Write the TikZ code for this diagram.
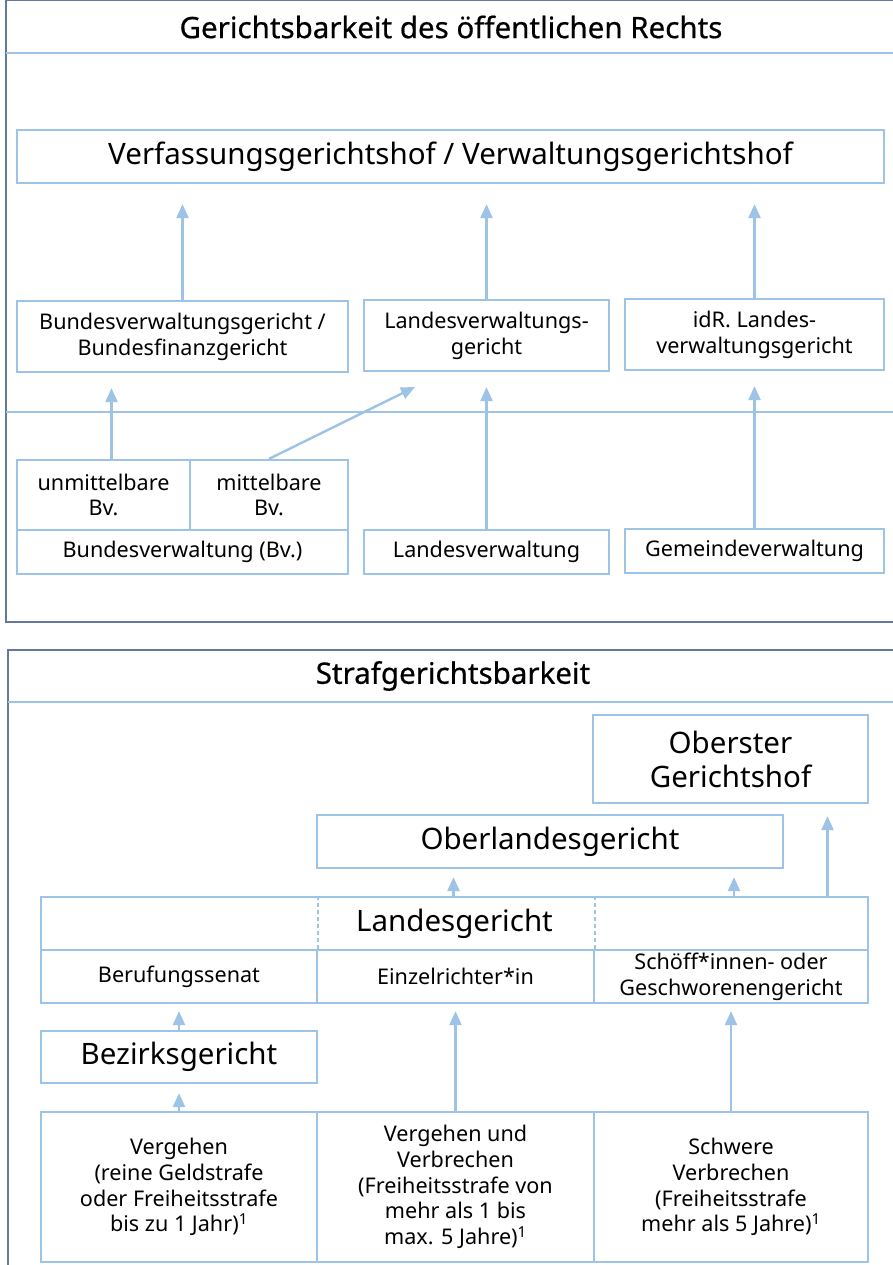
\documentclass[tikz,border=0pt]{standalone}
\usepackage{fontspec}
\setmainfont{Noto Sans}
\newfontfamily\titelfamilie[FakeBold=0.6]{Noto Sans}
\usepackage{tikz}
\usetikzlibrary{arrows.meta}
\definecolor{linie}{HTML}{9DC3E6}
\definecolor{rahmen}{HTML}{66789A}
\newcommand\normtxt{\fontsize{21.6}{25.8}\selectfont}
\newcommand\grosstxt{\fontsize{29.5}{34}\selectfont}
\newcommand\titeltxt{\titelfamilie\fontsize{29.5}{32}\selectfont}

\begin{document}
\begin{tikzpicture}[x=1pt,y=-1pt,
    box/.style={draw=linie,line width=2.2pt,align=center,inner sep=0pt,font=\normtxt},
    grossbox/.style={box,font=\grosstxt},
    arr/.style={draw=linie,line width=2.4pt,-{Triangle[width=12pt,length=14pt]}},
    trenner/.style={draw=linie,line width=2.2pt},
    panel/.style={draw=rahmen,line width=2pt}]
        \useasboundingbox (0,0) rectangle (892,1265);

        % oeffentliches Recht
        \draw[panel] (893,0.5) -| (6,622) -- (893,622);
        \draw[trenner] (6,53) -- (893,53);
        \node[font=\titeltxt] (titelA) at (451,27) {Gerichtsbarkeit des öffentlichen Rechts};

        \path
        (450.5,156.5) node[grossbox,minimum width=867,minimum height=53] (vfgh) {Verfassungsgerichtshof / Verwaltungsgerichtshof}
        (182.5,336.5) node[box,minimum width=331,minimum height=71] (bvwg) {Bundesverwaltungsgericht /\\Bundesfinanzgericht}
        (486.5,335.5) node[box,minimum width=245,minimum height=71] (lvwg) {Landesverwaltungs-\\gericht}
        (754.5,334.5) node[box,minimum width=259,minimum height=71] (idr) {idR. Landes-\\verwaltungsgericht}
        ;
        \draw[trenner] (6,412) -- (893,412);

        \path
        (103.5,495) node[box,minimum width=173,minimum height=70] (ubv) {unmittelbare\\Bv.}
        (269,495) node[box,minimum width=158,minimum height=70] (mbv) {mittelbare\\Bv.}
        (182.5,552) node[box,minimum width=331,minimum height=44] (bv) {Bundesverwaltung (Bv.)}
        (486.5,552) node[box,minimum width=245,minimum height=44] (lv) {Landesverwaltung}
        (754.5,551) node[box,minimum width=259,minimum height=44] (gv) {Gemeindeverwaltung}
        ;
        \coordinate (mziel) at (415,387);

        \draw[arr,shorten >=20pt] (bvwg.north) -- (bvwg.north |- vfgh.south);
        \draw[arr,shorten >=20pt] (lvwg.north) -- (lvwg.north |- vfgh.south);
        \draw[arr,shorten >=20pt] (idr.north) -- (idr.north |- vfgh.south);
        \draw[arr,shorten >=15pt] ([xshift=8pt]ubv.north) -- ([xshift=8pt]ubv.north |- bvwg.south);
        \draw[arr] (mbv.north) -- (mziel);
        \draw[arr,shorten >=15pt] (lv.north) -- (lv.north |- lvwg.south);
        \draw[arr,shorten >=15pt] (gv.north) -- (gv.north |- idr.south);

        % Strafgerichtsbarkeit
        \draw[panel] (893,650) -| (8,1268);
        \draw[trenner] (8,702) -- (893,702);
        \node[font=\titeltxt] (titelB) at (453,676) {Strafgerichtsbarkeit};

        \path
        (730.5,759) node[grossbox,minimum width=275,minimum height=88] (ogh) {Oberster\\Gerichtshof}
        (550,841.5) node[grossbox,minimum width=466,minimum height=53] (olg) {Oberlandesgericht}
        (454.5,923.5) node[grossbox,minimum width=827,minimum height=53] (lg) {Landesgericht}
        (179,976.5) node[box,minimum width=276,minimum height=53] (beruf) {Berufungssenat}
        (455.5,976.5) node[box,minimum width=277,minimum height=53] (einzel) {Einzelrichter*in}
        (731,976.5) node[box,minimum width=274,minimum height=53] (schoeff) {Schöff*innen- oder\\Geschworenengericht}
        (179,1057) node[grossbox,minimum width=276,minimum height=52] (bzg) {Bezirksgericht}
        (179,1187) node[box,minimum width=276,minimum height=150] (verg) {Vergehen\\(reine Geldstrafe\\oder Freiheitsstrafe\\bis zu 1 Jahr)\textsuperscript{1}}
        (455.5,1187) node[box,minimum width=277,minimum height=150] (vuv) {Vergehen und\\Verbrechen\\(Freiheitsstrafe von\\mehr als 1 bis\\max. 5 Jahre)\textsuperscript{1}}
        (731,1187) node[box,minimum width=274,minimum height=150] (schw) {Schwere\\Verbrechen\\(Freiheitsstrafe\\mehr als 5 Jahre)\textsuperscript{1}}
        ;
        \draw[linie,line width=1.6pt,dash pattern=on 4pt off 3pt] (beruf.north east) -- (beruf.north east |- lg.north);
        \draw[linie,line width=1.6pt,dash pattern=on 4pt off 3pt] (einzel.north east) -- (einzel.north east |- lg.north);

        \draw[arr,shorten >=12pt] ([xshift=97pt]ogh.south |- lg.north) -- ([xshift=97pt]ogh.south);
        \draw[arr,shorten >=8pt] ([xshift=-2pt]einzel.north |- lg.north) -- ([xshift=-2pt]einzel.north |- olg.south);
        \draw[arr,shorten >=8pt] ([xshift=3pt]schoeff.north |- lg.north) -- ([xshift=3pt]schoeff.north |- olg.south);
        \draw[arr,shorten >=7pt] (bzg.north) -- (beruf.south);
        \draw[arr,shorten >=9pt] (verg.north) -- (bzg.south);
        \draw[arr,shorten >=7pt] (vuv.north) -- (einzel.south);
        \draw[arr,shorten >=7pt] (schw.north) -- (schoeff.south);
\end{tikzpicture}
\end{document}
